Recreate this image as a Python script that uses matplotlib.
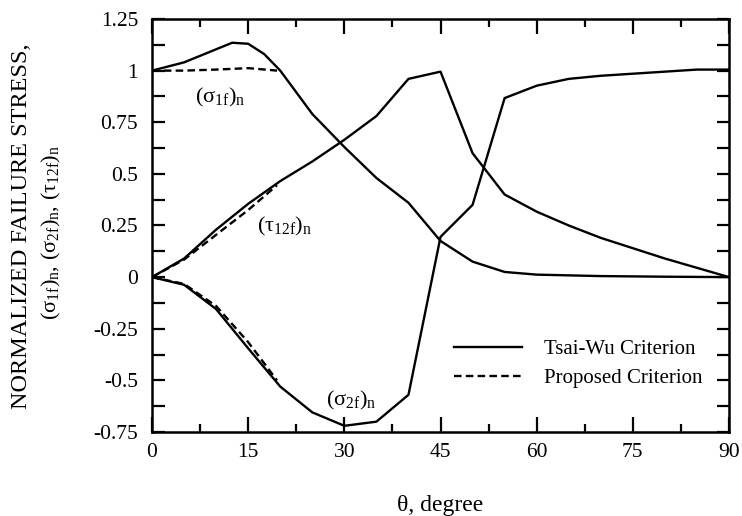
import matplotlib
matplotlib.use("Agg")
import matplotlib.pyplot as plt
from matplotlib.ticker import MultipleLocator, FormatStrFormatter

plt.rcParams['font.family'] = ['Liberation Serif', 'DejaVu Serif']
plt.rcParams['mathtext.fontset'] = 'custom'
plt.rcParams['mathtext.rm'] = 'Liberation Serif'
plt.rcParams['mathtext.it'] = 'Liberation Serif'
plt.rcParams['mathtext.default'] = 'rm'
plt.rcParams['axes.unicode_minus'] = False

# Tsai-Wu criterion (solid)
theta_s1 = [0, 5, 12.5, 15, 17.5, 20, 25, 30, 35, 40, 45, 50, 55, 60, 70, 80, 90]
s1_tw = [1.0, 1.04, 1.135, 1.13, 1.08, 1.0, 0.79, 0.63, 0.48, 0.36, 0.175,
         0.075, 0.025, 0.012, 0.005, 0.002, 0.0]

theta = [0, 5, 10, 15, 20, 25, 30, 35, 40, 45, 50, 55, 60, 65, 70, 75, 80, 85, 90]
t12_tw = [0, 0.09, 0.23, 0.355, 0.465, 0.56, 0.665, 0.78, 0.96, 0.995, 0.60,
          0.40, 0.317, 0.25, 0.19, 0.14, 0.09, 0.045, 0.0]
s2_tw = [0, -0.037, -0.155, -0.345, -0.53, -0.655, -0.72, -0.70, -0.57, 0.195,
         0.35, 0.867, 0.927, 0.96, 0.975, 0.985, 0.995, 1.005, 1.005]

# Proposed criterion (dashed)
theta_p = [0, 5, 10, 15, 19.5]
s1_p = [1.0, 1.0, 1.005, 1.012, 1.0]
t12_p = [0, 0.085, 0.205, 0.325, 0.445]
s2_p = [0, -0.033, -0.14, -0.315, -0.5]

fig = plt.figure(figsize=(7.42, 5.16), dpi=100)
ax = fig.add_axes([0.2049, 0.1628, 0.7776, 0.8004])

lw = 1.7
ax.plot(theta_s1, s1_tw, color='black', lw=lw, label='Tsai-Wu Criterion')
ax.plot(theta, t12_tw, color='black', lw=lw)
ax.plot(theta, s2_tw, color='black', lw=lw)
ax.plot(theta_p, s1_p, color='black', lw=lw, dashes=(3.2, 1.8), label='Proposed Criterion')
ax.plot(theta_p, t12_p, color='black', lw=lw, dashes=(3.2, 1.8))
ax.plot(theta_p, s2_p, color='black', lw=lw, dashes=(3.2, 1.8))

ax.set_xlim(0, 90)
ax.set_ylim(-0.75, 1.25)
ax.xaxis.set_major_locator(MultipleLocator(15))
ax.xaxis.set_minor_locator(MultipleLocator(7.5))
ax.yaxis.set_major_locator(MultipleLocator(0.25))
ax.yaxis.set_minor_locator(MultipleLocator(0.125))
ax.yaxis.set_major_formatter(FormatStrFormatter('%g'))
ax.tick_params(which='both', direction='in', top=True, right=True, width=1.6,
               labelsize=15.5)
ax.tick_params(axis='x', which='major', length=11, pad=8)
ax.tick_params(axis='x', which='minor', length=6)
ax.tick_params(axis='y', which='both', length=9, pad=10)
for s in ax.spines.values():
    s.set_linewidth(1.8)

ax.text(10.6, 0.868, r'$(\sigma_{1f})_n$', fontsize=16, ha='center', va='center')
ax.text(20.7, 0.244, r'$(\tau_{12f})_n$', fontsize=16, ha='center', va='center')
ax.text(31.1, -0.595, r'$(\sigma_{2f})_n$', fontsize=16, ha='center', va='center')

ax.legend(loc='center left', bbox_to_anchor=(0.49, 0.165), frameon=False,
          fontsize=15, handlelength=3.3, handletextpad=1.05, labelspacing=0.45)

fig.text(22 / 742, 1 - 226 / 516, 'NORMALIZED FAILURE STRESS,', rotation=90,
         fontsize=17.5, ha='center', va='center')
fig.text(51 / 742, 1 - 232 / 516,
         r'$(\sigma_{1f})_n$, $(\sigma_{2f})_n$, $(\tau_{12f})_n$', rotation=90,
         fontsize=16, ha='center', va='center')
fig.text(440 / 742, 1 - 506 / 516, 'θ, degree', fontsize=17,
         ha='center', va='center')

fig.savefig('out.png', dpi=100)
